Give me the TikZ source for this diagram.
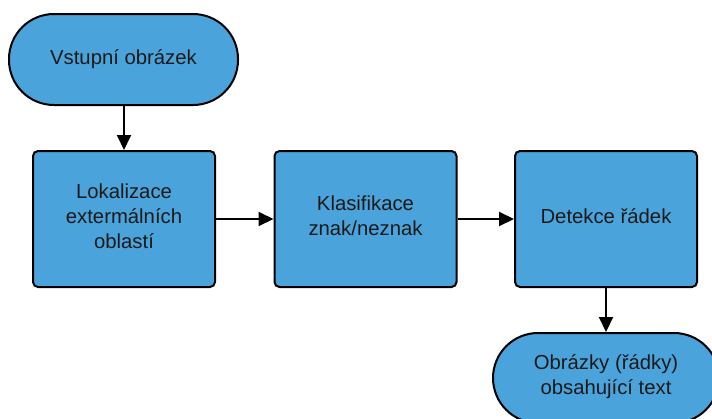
\documentclass[tikz,border=0pt]{standalone}
\usepackage{fontspec}
\setmainfont{Liberation Sans}
\usetikzlibrary{arrows.meta}
\definecolor{boxblue}{HTML}{4BA3DB}
\definecolor{txt}{HTML}{1A1A1A}
\newcommand{\dropstrut}{\rule[-6pt]{0pt}{0pt}}
\begin{document}
\begin{tikzpicture}[x=1pt,y=-1pt,
  base/.style={draw=black, line width=2pt, fill=boxblue, text=txt, align=center,
    font=\fontsize{20.3}{25}\selectfont, inner sep=0pt},
  procbox/.style={base, minimum width=182pt, minimum height=136pt, rounded corners=5pt},
  termbox/.style={base, rounded corners=45pt},
  flow/.style={line width=2pt, -{Triangle[length=15pt,width=14pt]}}]
\useasboundingbox (0,0) rectangle (712,418);
\node[termbox, minimum width=229pt, minimum height=91pt] (start) at (123.5,59.5) {Vstupní obrázek};
\node[procbox] (lok) at (124,219) {Lokalizace\\extermálních\\oblastí\dropstrut};
\node[procbox] (kla) at (365.5,219) {Klasifikace\\znak/neznak\dropstrut};
\node[procbox] (det) at (606,219) {Detekce řádek\dropstrut};
\node[termbox, minimum width=226pt, minimum height=90pt] (end) at (606,378) {Obrázky (řádky)\\obsahující text\rule[-6pt]{0pt}{0pt}};
\draw[flow] (start.south -| lok.north) -- (lok.north);
\draw[flow] (lok.east) -- (kla.west);
\draw[flow] (kla.east) -- (det.west);
\draw[flow] (det.south) -- (end.north);
\end{tikzpicture}
\end{document}
